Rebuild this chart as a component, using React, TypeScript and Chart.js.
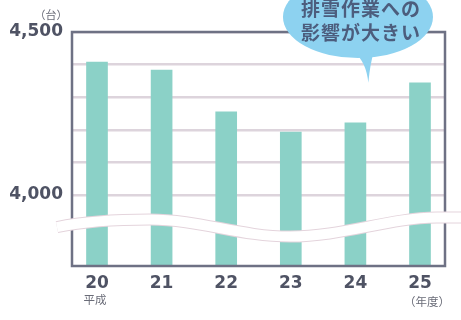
import React, { useEffect, useRef } from "react";
import { Chart, registerables } from "chart.js";

Chart.register(...registerables);

const years = ["20", "21", "22", "23", "24", "25"];
const vehicles = [4408, 4383, 4255, 4193, 4221, 4344];
const yTickValues = [4000, 4100, 4200, 4300, 4400, 4500];
const yLabelValues = [4000, 4500];
const unitLabel = "（台）";
const eraLabel = "平成";
const yearUnitLabel = "（年度）";
const calloutLines = ["排雪作業への", "影響が大きい"];
const breakValue = 3900;

export default function App() {
  const ref = useRef<HTMLCanvasElement>(null);

  useEffect(() => {
    const canvas = ref.current!;
    const textColor = "#4f5364";
    const tickFont = { family: "'DejaVu Sans', sans-serif", size: 17, weight: "bold" as const };

    const decor = {
      id: "decor",
      afterDatasetsDraw(chart: any) {
        const { ctx, chartArea: a, scales } = chart;
        const xs = scales.x;
        const ys = scales.y;
        const px = (v: number) => xs.getPixelForValue(v);
        ctx.save();

        // frame
        ctx.strokeStyle = "#6e7184";
        ctx.lineWidth = 2.5;
        ctx.strokeRect(a.left, a.top, a.right - a.left, a.bottom - a.top);

        // wave break
        const cy = ys.getPixelForValue(breakValue);
        const wave = () => {
          ctx.beginPath();
          ctx.moveTo(px(-0.62), cy - 0.5);
          ctx.bezierCurveTo(px(-0.2), cy - 6, px(0.4), cy - 8, px(0.82), cy - 8);
          ctx.bezierCurveTo(px(1.6), cy - 8, px(2.2), cy + 9, px(2.99), cy + 9);
          ctx.bezierCurveTo(px(3.8), cy + 9, px(4.5), cy - 9.5, px(5.26), cy - 10);
          ctx.lineTo(px(5.8), cy - 10);
        };
        wave();
        ctx.lineCap = "butt";
        ctx.strokeStyle = "#e4d4dc";
        ctx.lineWidth = 12;
        ctx.stroke();
        wave();
        ctx.strokeStyle = "#ffffff";
        ctx.lineWidth = 10;
        ctx.stroke();

        // callout bubble
        const tipX = px(4.2);
        const tipY = ys.getPixelForValue(vehicles[5]);
        const bx = px(4.04);
        const by = a.top - 15;
        const rx = 75;
        const ry = 41;
        ctx.fillStyle = "#8dd2f0";
        ctx.beginPath();
        ctx.ellipse(bx, by, rx, ry, 0, 0, Math.PI * 2);
        ctx.fill();
        ctx.beginPath();
        ctx.moveTo(bx - 4, by + ry - 6);
        ctx.quadraticCurveTo(tipX - 2, by + ry + 4, tipX, tipY);
        ctx.quadraticCurveTo(tipX + 2, by + ry + 4, bx + 16, by + ry - 6);
        ctx.closePath();
        ctx.fill();

        ctx.fillStyle = "#4c5d7d";
        ctx.font = "bold 19px 'Noto Sans CJK JP'";
        ctx.textAlign = "center";
        ctx.textBaseline = "middle";
        (ctx as any).letterSpacing = "1px";
        ctx.fillText(calloutLines[0], bx + 3, by - 8);
        ctx.fillText(calloutLines[1], bx + 3, by + 16);
        (ctx as any).letterSpacing = "0px";

        // small labels
        ctx.fillStyle = "#6a6c78";
        ctx.font = "11px 'Noto Sans CJK JP'";
        ctx.fillText(unitLabel, a.left - 21, a.top - 17);
        ctx.font = "11.5px 'Noto Sans CJK JP'";
        ctx.fillText(eraLabel, px(0) - 2, a.bottom + 34);
        ctx.fillText(yearUnitLabel, px(5) + 7, a.bottom + 36);

        ctx.restore();
      },
    };

    const chart = new Chart(canvas, {
      type: "bar",
      data: {
        datasets: [
          {
            data: vehicles.map((v, i) => ({ x: i, y: v })),
            backgroundColor: "#8bd1c7",
            borderWidth: 0,
            barThickness: 21,
          },
        ],
      },
      options: {
        animation: false,
        responsive: false,
        devicePixelRatio: 1,
        layout: { padding: { top: 32, right: 16, left: 0, bottom: 0 } },
        plugins: { legend: { display: false }, tooltip: { enabled: false } },
        scales: {
          x: {
            type: "linear",
            offset: false,
            min: -0.387,
            max: 5.387,
            grid: { display: false, drawTicks: false, offset: false },
            border: { display: false },
            afterBuildTicks: (s: any) => {
              s.ticks = years.map((_, i) => ({ value: i }));
            },
            afterFit: (s: any) => {
              s.height = 54;
            },
            ticks: {
              callback: (v: any) => years[v as number],
              font: tickFont,
              color: textColor,
              padding: 7,
              autoSkip: false,
              maxRotation: 0,
            },
          },
          y: {
            min: 3782,
            max: 4500,
            afterBuildTicks: (s: any) => {
              s.ticks = yTickValues.map((v) => ({ value: v }));
            },
            afterFit: (s: any) => {
              s.width = 72;
            },
            grid: { color: "#ddd4dc", lineWidth: 2.5, drawTicks: false },
            border: { display: false },
            ticks: {
              callback: (v: any) =>
                yLabelValues.includes(v as number) ? (v as number).toLocaleString("en-US") : "",
              font: tickFont,
              color: textColor,
              padding: 9,
            },
          },
        },
      },
      plugins: [decor],
    } as any);

    return () => chart.destroy();
  }, []);

  return (
    <div style={{ position: "absolute", left: 0, top: 0, width: 461, height: 320, background: "#fff" }}>
      <canvas ref={ref} width={461} height={320} />
    </div>
  );
}
